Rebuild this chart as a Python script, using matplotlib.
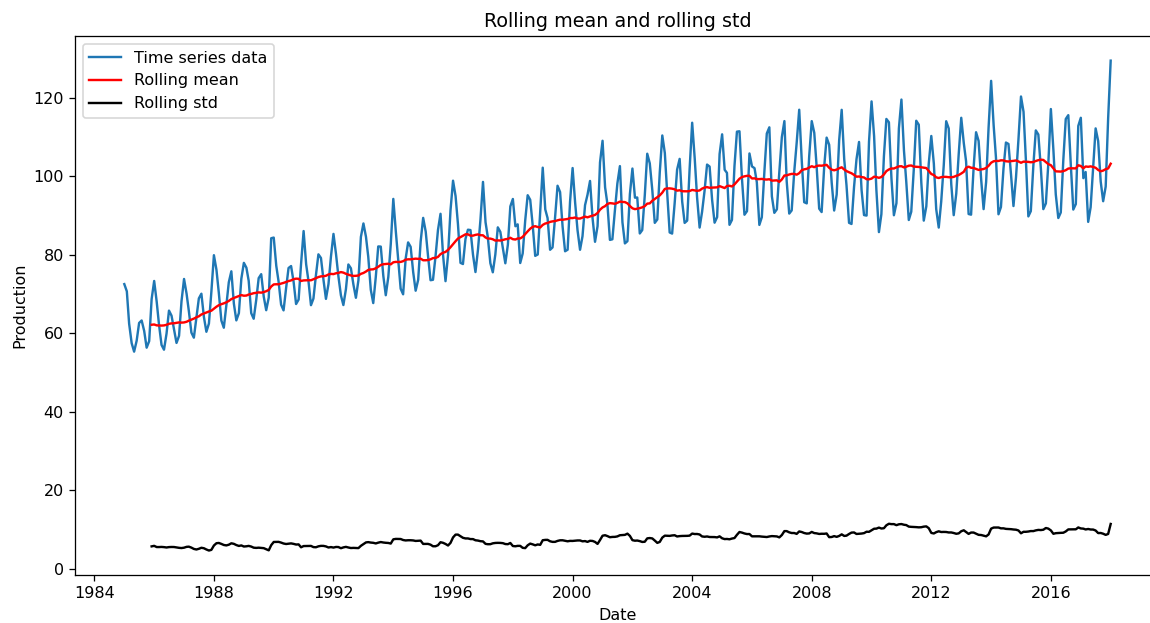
import matplotlib
matplotlib.use('Agg')
import matplotlib.pyplot as plt
import pandas as pd
import numpy as np

# monthly industrial electric production, Jan 1985 .. Jan 2018
start_date = '1985-01-01'
production = [
    # 1985
    72.51, 70.67, 62.45, 57.47, 55.32, 58.09, 62.62, 63.25, 60.58, 56.32, 58.00, 68.71,
    # 1986
    73.31, 67.99, 62.22, 57.03, 55.81, 59.90, 65.77, 64.48, 61.00, 57.53, 59.34, 68.14,
    # 1987
    73.82, 70.06, 65.61, 60.16, 58.87, 63.89, 68.87, 70.07, 64.12, 60.38, 62.46, 70.58,
    # 1988
    79.87, 76.16, 70.29, 63.24, 61.41, 67.11, 72.98, 75.77, 67.52, 63.28, 65.11, 73.86,
    # 1989
    77.92, 76.68, 73.35, 65.11, 63.69, 68.47, 74.03, 75.04, 69.31, 65.87, 69.07, 84.19,
    # 1990
    84.36, 77.17, 73.20, 67.28, 65.82, 71.47, 76.61, 77.11, 73.06, 67.44, 68.57, 77.68,
    # 1991
    86.02, 77.56, 73.37, 67.15, 68.82, 74.84, 80.09, 79.16, 73.57, 68.75, 72.52, 79.49,
    # 1992
    85.29, 80.16, 74.53, 69.64, 67.18, 71.21, 77.51, 76.54, 72.35, 69.03, 73.50, 84.52,
    # 1993
    87.95, 84.56, 79.47, 71.06, 67.68, 74.33, 82.10, 82.06, 74.60, 69.68, 74.32, 82.66,
    # 1994
    94.20, 85.86, 79.09, 71.33, 69.92, 78.99, 83.13, 82.00, 75.56, 70.83, 73.60, 83.30,
    # 1995
    89.37, 85.88, 79.77, 73.50, 73.61, 79.56, 86.29, 90.41, 79.87, 73.26, 79.92, 91.31,
    # 1996
    98.84, 94.91, 87.80, 77.92, 77.62, 84.01, 86.36, 86.27, 79.98, 75.58, 81.33, 88.90,
    # 1997
    98.53, 88.26, 84.45, 77.83, 75.52, 80.07, 86.96, 85.80, 81.64, 77.81, 82.53, 92.29,
    # 1998
    94.18, 87.24, 87.72, 77.88, 80.30, 88.74, 95.14, 93.97, 87.34, 79.70, 80.05, 90.75,
    # 1999
    102.15, 91.52, 89.33, 81.25, 81.85, 89.55, 97.55, 95.95, 87.08, 80.87, 81.26, 93.56,
    # 2000
    102.06, 93.21, 86.26, 81.25, 84.70, 92.61, 95.24, 98.77, 89.26, 83.28, 87.27, 103.50,
    # 2001
    109.00, 97.15, 92.97, 83.76, 83.92, 91.31, 98.13, 102.55, 88.25, 82.87, 83.44, 95.41,
    # 2002
    101.93, 94.51, 94.56, 85.40, 86.27, 95.12, 105.70, 103.25, 96.41, 88.10, 88.96, 100.95,
    # 2003
    110.35, 105.87, 95.94, 85.66, 85.37, 93.11, 101.66, 104.39, 93.51, 88.09, 88.67, 101.90,
    # 2004
    113.59, 104.53, 94.58, 86.90, 90.90, 96.36, 102.94, 102.44, 93.86, 88.14, 89.57, 105.61,
    # 2005
    110.64, 101.61, 100.83, 87.60, 88.85, 102.54, 111.32, 111.42, 99.17, 90.17, 91.08, 105.77,
    # 2006
    102.46, 102.03, 98.45, 87.58, 89.54, 100.98, 110.85, 112.42, 94.85, 90.65, 91.55, 101.07,
    # 2007
    109.96, 114.01, 98.69, 90.46, 91.27, 101.06, 108.48, 116.90, 103.94, 93.36, 93.06, 105.06,
    # 2008
    114.00, 111.02, 102.40, 91.72, 90.85, 102.31, 109.80, 107.98, 98.31, 91.24, 95.31, 109.08,
    # 2009
    116.88, 104.29, 97.63, 88.11, 87.82, 97.23, 104.31, 108.70, 96.46, 90.08, 89.95, 108.81,
    # 2010
    119.02, 110.19, 96.47, 85.75, 90.31, 105.04, 114.56, 113.70, 99.46, 90.04, 93.11, 112.15,
    # 2011
    119.49, 106.51, 98.61, 88.83, 90.93, 101.70, 114.10, 113.09, 98.32, 88.67, 92.30, 103.21,
    # 2012
    110.22, 103.20, 91.60, 86.90, 93.50, 102.71, 113.97, 112.12, 97.92, 90.06, 95.54, 105.62,
    # 2013
    114.85, 108.42, 103.77, 90.35, 90.19, 102.11, 111.17, 108.95, 99.24, 91.60, 98.50, 112.37,
    # 2014
    124.25, 112.88, 104.76, 90.29, 92.13, 101.88, 108.55, 108.19, 100.42, 92.38, 99.70, 109.35,
    # 2015
    120.27, 116.38, 104.47, 89.75, 91.09, 102.65, 111.64, 110.59, 101.92, 91.60, 93.06, 103.22,
    # 2016
    117.08, 106.67, 95.35, 89.33, 90.74, 104.04, 114.54, 115.52, 102.76, 91.49, 92.89, 112.77,
    # 2017
    114.85, 99.49, 101.04, 88.35, 92.08, 102.15, 112.15, 108.93, 98.62, 93.61, 97.34, 114.72,
    # 2018
    129.40,
]
window = 12

dates = pd.date_range(start_date, periods=len(production), freq='MS')
ts = pd.Series(production, index=dates)
rol_mean = ts.rolling(window).mean()
rol_std = ts.rolling(window).std()

fig = plt.figure(figsize=(10, 623 / 115), dpi=115)
ax = fig.add_axes([0.0652, 0.077, 0.9435, 0.865])

ax.plot(ts.index, ts.values, color='#1f77b4', label='Time series data')
ax.plot(rol_mean.index, rol_mean.values, color='red', label='Rolling mean')
ax.plot(rol_std.index, rol_std.values, color='black', label='Rolling std')

ax.set_title('Rolling mean and rolling std')
ax.set_xlabel('Date')
ax.set_ylabel('Production')
ax.legend(loc='upper left')

plt.savefig('out.png', dpi=115)
